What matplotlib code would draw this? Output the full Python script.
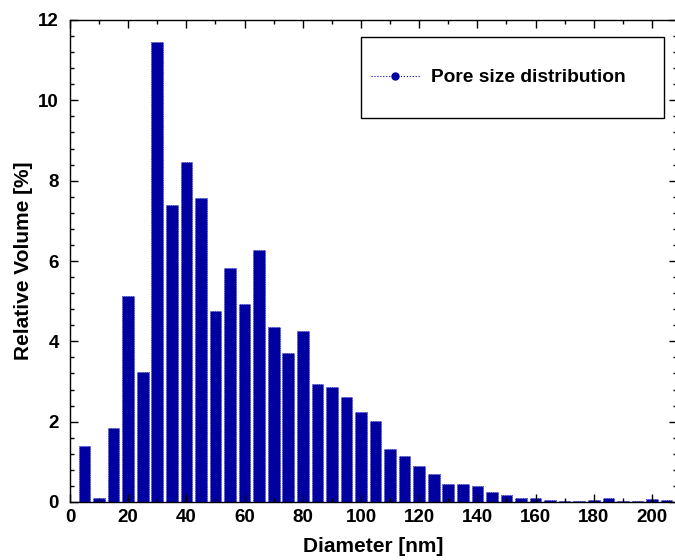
import numpy as np
import matplotlib
matplotlib.use('Agg')
import matplotlib.pyplot as plt
from matplotlib.lines import Line2D
from matplotlib.patches import Rectangle
from matplotlib.ticker import MultipleLocator

plt.rcParams['font.family'] = ['Liberation Sans', 'DejaVu Sans']
plt.rcParams['font.weight'] = 'bold'

diameter = np.arange(5, 210, 5)
volume = [1.40, 0.09, 1.85, 5.13, 3.24, 11.46, 7.39, 8.47, 7.57, 4.75,
          5.82, 4.94, 6.27, 4.36, 3.71, 4.25, 2.94, 2.86, 2.61, 2.25,
          2.02, 1.31, 1.15, 0.90, 0.70, 0.45, 0.46, 0.39, 0.24, 0.17,
          0.11, 0.09, 0.04, 0.035, 0.035, 0.05, 0.09, 0.02, 0.025, 0.08,
          0.05]
bar_color = '#0000a0'

W, H = 675, 560
fig = plt.figure(figsize=(W / 100, H / 100), dpi=100)
ax = fig.add_axes([70/W, 58/H, 607/W, 482/H])

ax.bar(diameter, volume, width=4.0, color=bar_color, edgecolor='#3030c0',
       linewidth=0.6, linestyle=':')

ax.set_xlim(0, 208.6)
ax.set_ylim(0, 12)
ax.xaxis.set_major_locator(MultipleLocator(20))
ax.xaxis.set_minor_locator(MultipleLocator(10))
ax.yaxis.set_major_locator(MultipleLocator(2))
ax.yaxis.set_minor_locator(MultipleLocator(0.4))
ax.tick_params(which='both', direction='in', top=True, right=True,
               labelsize=13.5, width=1.0)
ax.tick_params(which='major', length=6)
ax.tick_params(which='minor', length=3)
ax.tick_params(axis='x', which='major', pad=5)
ax.tick_params(axis='y', which='major', pad=8)
for s in ax.spines.values():
    s.set_linewidth(1.0)

ax.set_xlabel('Diameter [nm]', fontsize=15, fontweight='bold', labelpad=8)
ax.set_ylabel('Relative Volume [%]', fontsize=15, fontweight='bold', labelpad=4)

# legend box drawn separately so the frame matches the original size
ax.add_patch(Rectangle((361/W, 1 - 118/H), 303/W, 81/H,
                       transform=fig.transFigure, facecolor='white',
                       edgecolor='black', linewidth=1.0, zorder=4,
                       clip_on=False))
handle = Line2D([], [], color=bar_color, linestyle=':', linewidth=0.8,
                marker='o', markersize=5)
leg = ax.legend([handle], ['Pore size distribution'], loc='center left',
                bbox_to_anchor=(361/W, 1 - 77.5/H), bbox_transform=fig.transFigure,
                frameon=False, prop={'size': 13.75, 'weight': 'bold'},
                handlelength=2.6, borderpad=0.5, borderaxespad=0,
                handletextpad=0.55)
leg.set_zorder(6)

fig.savefig('out.png', dpi=100)
